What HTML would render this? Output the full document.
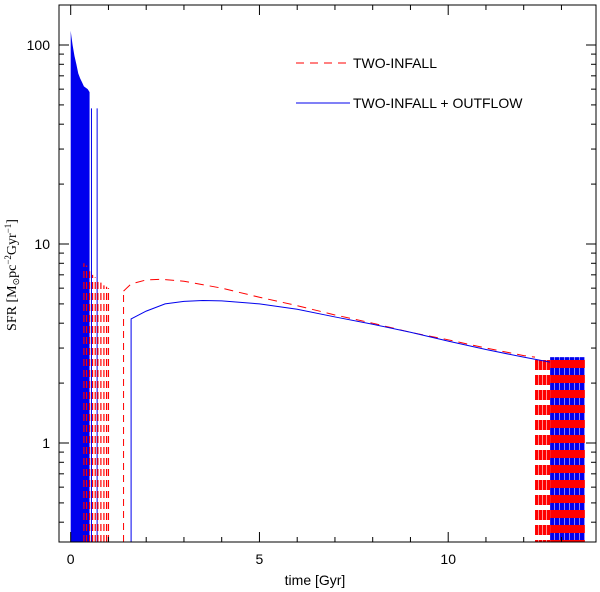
<!DOCTYPE html>
<html><head><meta charset="utf-8"><style>
body{margin:0;background:#fff}
svg{display:block;font-family:"Liberation Sans",sans-serif}
</style></head><body>
<svg id="chart" width="600" height="592" viewBox="0 0 600 592">
<defs>
<pattern id="stripes" patternUnits="userSpaceOnUse" width="5" height="15">
<rect width="5" height="15" fill="#ff0000"/>
<rect y="8" width="5" height="7" fill="#0000ee"/>
<rect x="4" y="8" width="1" height="7" fill="#8080ff"/>
</pattern>
<pattern id="redstripes" patternUnits="userSpaceOnUse" width="4" height="15">
<rect width="4" height="10" fill="#ff0000"/>
<rect x="2" width="1" height="10" fill="#ff9090"/>
<rect y="10" width="4" height="5" fill="#ffffff"/>
</pattern>
</defs>
<g id="plot"></g>
<g id="axes"></g>
<line x1="296" y1="63" x2="350" y2="63" stroke="#ff0000" stroke-dasharray="8,6"/>
<text x="353" y="68" font-size="14">TWO-INFALL</text>
<line x1="296" y1="103" x2="350" y2="103" stroke="#0000ee"/>
<text x="353" y="108" font-size="14">TWO-INFALL + OUTFLOW</text>
<text x="315" y="585" font-size="14" text-anchor="middle">time [Gyr]</text>
<text transform="translate(16,275) rotate(-90)" font-size="14" text-anchor="middle" font-family="Liberation Serif,serif">SFR [M<tspan font-size="9" dy="3">⊙</tspan><tspan dy="-3">pc</tspan><tspan font-size="9" dy="-5">−2</tspan><tspan dy="5">Gyr</tspan><tspan font-size="9" dy="-5">−1</tspan><tspan dy="5">]</tspan></text>
</svg>
<script>
const xTicks=[0,5,10];
const yTicks=[1,10,100];
const yTickLabels=["1","10","100"];
// red (two-infall) smooth second-infall curve
const redT=[1.4,1.6,2.0,2.4,3,4,5,6,7,8,9,10,11,12,12.3];
const redV=[5.8,6.3,6.6,6.65,6.5,6.0,5.4,4.9,4.4,4.0,3.6,3.3,3.0,2.75,2.7];
// blue (outflow) smooth curve
const blueT=[1.6,1.6,2.0,2.5,3,3.5,4,5,6,7,8,9,10,11,12,12.7];
const blueV=[0.32,4.2,4.6,5.0,5.15,5.2,5.18,5.0,4.7,4.3,3.95,3.6,3.25,2.95,2.7,2.55];
// blue early spikes envelope
const blueSpikeT=[0.0,0.02,0.05,0.1,0.15,0.2,0.25,0.3,0.35,0.4,0.45,0.5];
const blueSpikeV=[118,110,100,88,80,72,68,65,62,61,60,58];
const blueLinesT=[0.55,0.7];
const blueLinesV=[48,48];
// red early oscillation bars
const redBarT=[0.35,0.42,0.5,0.58,0.65,0.72,0.8,0.88,0.95,1.0];
const redBarV=[8.0,7.8,7.3,7.0,6.8,6.6,6.4,6.2,6.1,6.0];
const bandStart=12.3, bandBlueStart=12.7, bandEnd=13.62, bandRedTop=2.7, bandBlueTop=2.55, bandBottom=0.32;
const X0=70.7,PX=37.75,Y1=443,DEC=199;
const xs=t=>X0+t*PX, ys=v=>Y1-Math.log10(v)*DEC;
const L=59,R=596,T=5,B=542;
const NS="http://www.w3.org/2000/svg";
const plot=document.getElementById('plot'),axes=document.getElementById('axes');
function mk(tag,attrs,parent){const e=document.createElementNS(NS,tag);for(const k in attrs)e.setAttribute(k,attrs[k]);parent.appendChild(e);return e;}
const clip=mk('clipPath',{id:'clp'},plot);mk('rect',{x:L,y:T,width:R-L,height:B-T},clip);
const g=mk('g',{'clip-path':'url(#clp)'},plot);
let d=`M${xs(blueSpikeT[0])},${B}`;
blueSpikeT.forEach((t,i)=>d+=` L${xs(t)},${ys(blueSpikeV[i])}`);
d+=` L${xs(blueSpikeT[blueSpikeT.length-1])},${B}Z`;
let e=mk('path',{d,fill:'#0000ee'},g);


blueLinesT.forEach((t,i)=>{
 let l=mk('line',{x1:xs(t),x2:xs(t),y1:B,y2:ys(blueLinesV[i]),stroke:'#0000ee','stroke-width':1},g);
 
 
});
redBarT.forEach((t,i)=>{
 let l=mk('line',{x1:xs(t),x2:xs(t),y1:B,y2:ys(redBarV[i]),stroke:'#ff0000','stroke-width':1.2,'stroke-dasharray':'7,4'},g);
 
 
});
let rl=mk('line',{x1:xs(redT[0]),x2:xs(redT[0]),y1:B,y2:ys(redV[0]),stroke:'#ff0000','stroke-dasharray':'7,5'},g);


let rb=mk('rect',{x:xs(bandStart),y:ys(bandRedTop),width:xs(bandBlueStart)-xs(bandStart),height:B-ys(bandRedTop),fill:'url(#redstripes)'},g);


let bb=mk('rect',{x:xs(bandBlueStart),y:ys(bandRedTop),width:xs(bandEnd)-xs(bandBlueStart),height:B-ys(bandRedTop),fill:'url(#stripes)'},g);


let pr=mk('polyline',{points:redT.map((t,i)=>xs(t)+','+ys(redV[i])).join(' '),fill:'none',stroke:'#ff0000','stroke-dasharray':'9,6','stroke-width':1},g);


let pb=mk('polyline',{points:blueT.map((t,i)=>xs(t)+','+ys(blueV[i])).join(' '),fill:'none',stroke:'#0000ee','stroke-width':1},g);


let fr=mk('rect',{x:L,y:T,width:R-L,height:B-T,fill:'none',stroke:'#000','stroke-width':1},axes);


for(let t=0;t<=13;t++){const x=xs(t),len=(t%5===0)?10:5;
 mk('line',{x1:x,x2:x,y1:B,y2:B-len,stroke:'#000'},axes);mk('line',{x1:x,x2:x,y1:T,y2:T+len,stroke:'#000'},axes);}
xTicks.forEach(t=>{let tx=mk('text',{x:xs(t),y:564,'font-size':14,'text-anchor':'middle'},axes);tx.textContent=t;
 
 });
for(let p=-1;p<=2;p++)for(let m=1;m<10;m++){const v=m*Math.pow(10,p);const y=ys(v);if(y<T||y>B)continue;const len=m===1?10:5;
 mk('line',{x1:L,x2:L+len,y1:y,y2:y,stroke:'#000'},axes);mk('line',{x1:R,x2:R-len,y1:y,y2:y,stroke:'#000'},axes);}
yTicks.forEach((v,i)=>{let tx=mk('text',{x:50,y:ys(v)+5,'font-size':14,'text-anchor':'end'},axes);tx.textContent=yTickLabels[i];
 
 });
</script>
</body></html>
